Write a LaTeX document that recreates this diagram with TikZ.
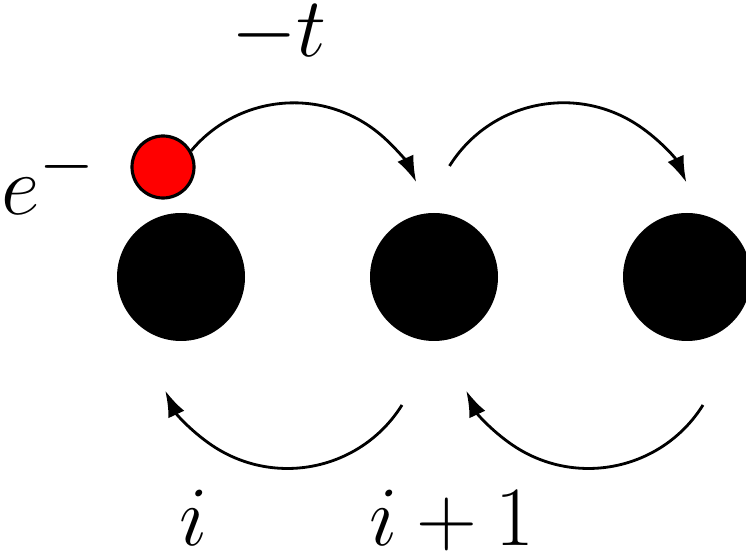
\documentclass[tikz,border=0pt]{standalone}
\usepackage{xcolor}
\usepackage{tikz}
\usetikzlibrary{arrows.meta}

\begin{document}
\begin{tikzpicture}[
    site/.style={circle, fill=black, inner sep=0pt, minimum size=2.56cm},
    electron/.style={circle, draw, fill=red, line width=1.8pt, inner sep=0pt, minimum size=1.24cm},
    hop/.style={-{Latex[length=15pt, width=10pt]}, line width=1.6pt},
    lbl/.style={font=\Huge, scale=1.93, inner sep=0pt, anchor=base}
]

\clip (0,0) rectangle (14.92,11.14);

% Lattice sites
\node[site] (site1) at (3.62,5.60) {};
\node[site] (site2) at (8.68,5.60) {};
\node[site] (site3) at (13.74,5.60) {};

% Electron
\node[electron] (elec) at (3.26,7.80) {};

% Arc start points
\coordinate (hopB) at (8.99,7.82);
\coordinate (backA) at (8.04,3.04);
\coordinate (backB) at (14.06,3.04);

% Hopping arrows
\draw[hop] (elec.30) arc[start angle=140, end angle=24, radius=2.68cm];
\draw[hop] (hopB) arc[start angle=148, end angle=24, radius=2.69cm];
\draw[hop] (backA) arc[start angle=-32, end angle=-155, radius=2.70cm];
\draw[hop] (backB) arc[start angle=-32, end angle=-155, radius=2.70cm];

% Labels
\node[lbl] (hoplabel) at (5.58,10.00) {$-t$};
\node[lbl] (elabel) at (0.98,6.84) {$e^-$};
\node[lbl] (ilabel) at (3.88,0.22) {$i$};
\node[lbl] (iplabel) at (9.04,0.22) {$i+1$};

\end{tikzpicture}
\end{document}
